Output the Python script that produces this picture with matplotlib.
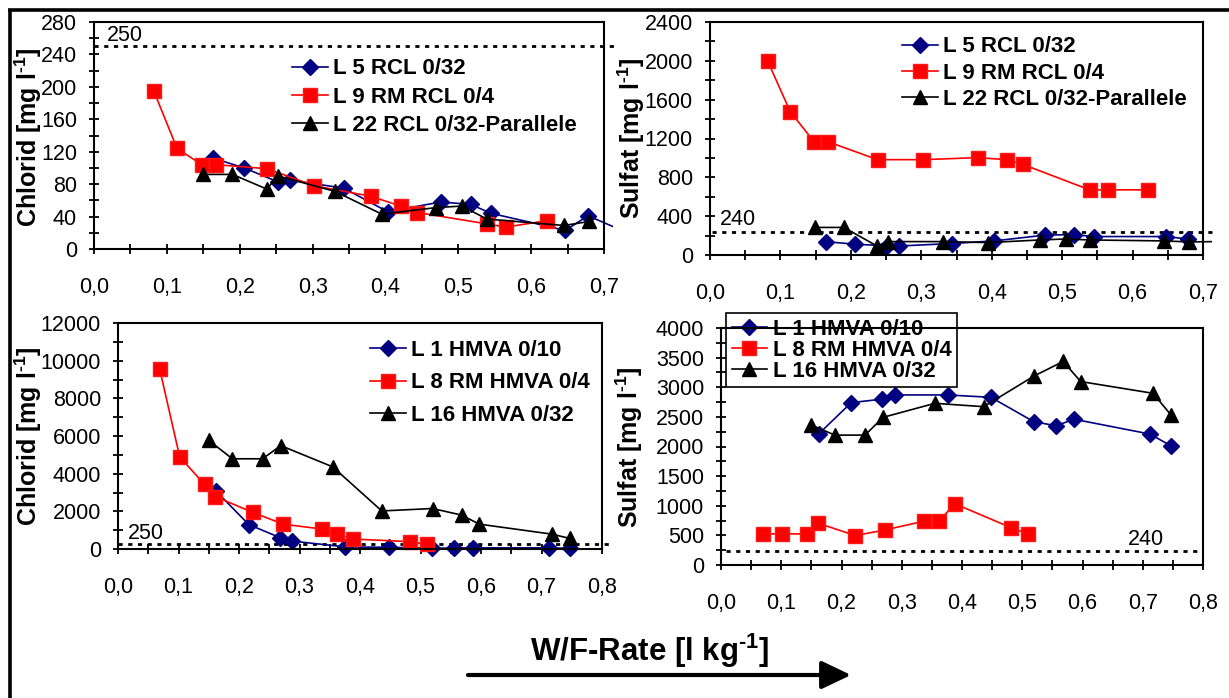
import numpy as np
import matplotlib
matplotlib.use("Agg")
import matplotlib.pyplot as plt
from matplotlib.ticker import FixedLocator, MultipleLocator
from matplotlib.lines import Line2D
from matplotlib.patches import FancyArrowPatch, Rectangle

plt.rcParams['font.family'] = ['Liberation Sans', 'DejaVu Sans']
plt.rcParams['mathtext.fontset'] = 'custom'
plt.rcParams['mathtext.rm'] = 'Liberation Sans:bold'
plt.rcParams['mathtext.bf'] = 'Liberation Sans:bold'
plt.rcParams['mathtext.default'] = 'bf'

# ---------------- data ----------------
# RCL columns (W/F-Rate in l/kg)
x_L5 = [0.164, 0.206, 0.252, 0.269, 0.343, 0.403, 0.476, 0.517, 0.545, 0.647, 0.678, 0.745]
x_L9 = [0.082, 0.114, 0.148, 0.168, 0.238, 0.302, 0.380, 0.421, 0.444, 0.539, 0.565, 0.622]
x_L22 = [0.149, 0.190, 0.237, 0.253, 0.331, 0.395, 0.469, 0.505, 0.539, 0.645, 0.680, 0.745]

chlorid_L5 = [112, 100, 83, 85, 75, 46, 58, 55, 44, 23, 41, 15]
chlorid_L9 = [195, 124, 104, 104, 99, 78, 65, 53, 45, 31, 27, 35]
chlorid_L22 = [92, 92, 74, 90, 71, 43, 51, 53, 37, 29, 34, np.nan]

sulfat_L5 = [138, 111, 95, 93, 118, 145, 205, 210, 190, 190, 165, np.nan]
sulfat_L9 = [1995, 1476, 1165, 1165, 982, 982, 1003, 982, 934, 671, 671, 671]
sulfat_L22 = [284, 284, 93, 138, 138, 128, 155, 165, 155, 145, 135, 140]

# HMVA columns
x_L1 = [0.162, 0.216, 0.268, 0.288, 0.376, 0.448, 0.519, 0.556, 0.586, 0.712, 0.747]
x_L8 = [0.069, 0.102, 0.143, 0.161, 0.223, 0.273, 0.337, 0.362, 0.388, 0.482, 0.510]
x_L16 = [0.150, 0.189, 0.239, 0.269, 0.355, 0.436, 0.520, 0.568, 0.597, 0.717, 0.747]

chlorid_L1 = [3080, 1300, 600, 420, 110, 90, 40, 50, 60, 60, 30]
chlorid_L8 = [9540, 4890, 3430, 2780, 1940, 1320, 1060, 790, 530, 390, 260]
chlorid_L16 = [5770, 4790, 4790, 5490, 4360, 2020, 2150, 1800, 1320, 790, 560]

sulfat_L1 = [2210, 2740, 2800, 2870, 2870, 2830, 2420, 2350, 2460, 2210, 2010]
sulfat_L8 = [525, 525, 525, 706, 497, 593, 740, 740, 1034, 627, 525]
sulfat_L16 = [2362, 2192, 2192, 2492, 2729, 2672, 3192, 3435, 3096, 2898, 2531]

labels_rcl = ["L 5 RCL 0/32", "L 9 RM RCL 0/4", "L 22 RCL 0/32-Parallele"]
labels_hmva = ["L 1 HMVA 0/10", "L 8 RM HMVA 0/4", "L 16 HMVA 0/32"]

chlorid_limit = 250
sulfat_limit = 240

x_ticks_07 = [0.0, 0.1, 0.2, 0.3, 0.4, 0.5, 0.6, 0.7]
x_labels_07 = ["0,0", "0,1", "0,2", "0,3", "0,4", "0,5", "0,6", "0,7"]
x_ticks_08 = [0.0, 0.1, 0.2, 0.3, 0.4, 0.5, 0.6, 0.7, 0.8]
x_labels_08 = ["0,0", "0,1", "0,2", "0,3", "0,4", "0,5", "0,6", "0,7", "0,8"]

y_ticks_cl_rcl = [0, 40, 80, 120, 160, 200, 240, 280]
y_ticks_so4_rcl = [0, 400, 800, 1200, 1600, 2000, 2400]
y_ticks_cl_hmva = [0, 2000, 4000, 6000, 8000, 10000, 12000]
y_ticks_so4_hmva = [0, 500, 1000, 1500, 2000, 2500, 3000, 3500, 4000]

ylabel_cl = r"Chlorid [mg l$^{\text{-1}}$]"
ylabel_so4 = r"Sulfat [mg l$^{\text{-1}}$]"
xlabel = r"W/F-Rate [l kg$^{\text{-1}}$]"

# ---------------- figure ----------------
W, H = 1229, 698
fig = plt.figure(figsize=(W / 100, H / 100), dpi=100)
fig.patch.set_facecolor("white")


def px_axes(l, t, r, b):
    return fig.add_axes([l / W, 1 - b / H, (r - l) / W, (b - t) / H])


BLUE = dict(color="#000080", marker="D", ms=8, mfc="#000080", mec="#000080", lw=1.2)
RED = dict(color="#ff0000", marker="s", ms=10.5, mfc="#ff0000", mec="#ff1a1a", lw=1.2)
BLACK = dict(color="black", marker="^", ms=10, mfc="black", mec="black", lw=1.2)
TICK_FS = 15.5
LEG_FS = 16


def style_axes(ax, xticks, xlabels, yticks, yminor):
    ax.set_xlim(xticks[0], xticks[-1])
    ax.set_ylim(yticks[0], yticks[-1])
    ax.xaxis.set_major_locator(FixedLocator(xticks))
    ax.set_xticklabels(xlabels)
    ax.xaxis.set_minor_locator(MultipleLocator(0.05))
    ax.yaxis.set_major_locator(FixedLocator(yticks))
    ax.set_yticklabels([str(v) for v in yticks])
    ax.yaxis.set_minor_locator(MultipleLocator(yminor))
    for s in ax.spines.values():
        s.set_linewidth(1.5)
    ax.tick_params(axis="both", which="both", direction="inout", length=6.5,
                   width=1.3, labelsize=TICK_FS)
    ax.tick_params(axis="x", which="major", pad=17)
    ax.tick_params(axis="y", which="major", pad=9)


def plot_series(ax, xs, ys, style, extend=1.0):
    line, = ax.plot(xs, ys, **style)
    clip = Rectangle((0, -0.1), extend, 1.2, transform=ax.transAxes)
    line.set_clip_path(clip)
    return line


def limit_line(ax, value, x0, x1):
    ax.plot([x0, x1], [value, value], transform=ax.get_yaxis_transform(),
            color="black", lw=2, ls=(0, (1.5, 2)), clip_on=False, zorder=1.5)


def add_legend(ax, handles, labels, left, top, spacing, frame=False):
    leg = ax.legend(handles, labels, loc="upper left",
                    bbox_to_anchor=(left / W, 1 - top / H),
                    bbox_transform=fig.transFigure, frameon=frame,
                    borderaxespad=0, borderpad=0.25 if frame else 0,
                    prop=dict(weight="bold", size=LEG_FS), labelspacing=spacing,
                    handlelength=1.6, handletextpad=0.25, numpoints=1,
                    fancybox=False)
    if frame:
        leg.get_frame().set_edgecolor("black")
        leg.get_frame().set_linewidth(1.2)
        leg.get_frame().set_facecolor("white")
        leg.get_frame().set_alpha(1)
    return leg


# Panel 1: Chlorid, RCL
ax1 = px_axes(94, 22, 604, 249)
h1 = plot_series(ax1, x_L5, chlorid_L5, BLUE, extend=1.018)
h2 = plot_series(ax1, x_L9, chlorid_L9, RED)
h3 = plot_series(ax1, x_L22, chlorid_L22, BLACK)
limit_line(ax1, chlorid_limit, 0, 1.02)
ax1.text(0.018, chlorid_limit + 1, str(chlorid_limit), fontsize=TICK_FS, va="bottom", ha="left")
style_axes(ax1, x_ticks_07, x_labels_07, y_ticks_cl_rcl, 20)
add_legend(ax1, [h1, h2, h3], labels_rcl, 292, 58.5, 0.33)

# Panel 2: Sulfat, RCL
ax2 = px_axes(710, 22, 1203, 255)
h1 = plot_series(ax2, x_L5, sulfat_L5, BLUE)
h2 = plot_series(ax2, x_L9, sulfat_L9, RED)
h3 = plot_series(ax2, x_L22, sulfat_L22, BLACK, extend=1.018)
limit_line(ax2, sulfat_limit, 0.004, 1.018)
ax2.text(0.014, sulfat_limit + 15, str(sulfat_limit), fontsize=TICK_FS, va="bottom", ha="left")
style_axes(ax2, x_ticks_07, x_labels_07, y_ticks_so4_rcl, 200)
add_legend(ax2, [h1, h2, h3], labels_rcl, 902, 36.5, 0.24)

# Panel 3: Chlorid, HMVA
ax3 = px_axes(118, 323, 602, 549)
h1 = plot_series(ax3, x_L1, chlorid_L1, BLUE)
h2 = plot_series(ax3, x_L8, chlorid_L8, RED)
h3 = plot_series(ax3, x_L16, chlorid_L16, BLACK)
limit_line(ax3, chlorid_limit, 0, 1.02)
ax3.text(0.0165, chlorid_limit + 10, str(chlorid_limit), fontsize=TICK_FS, va="bottom", ha="left")
style_axes(ax3, x_ticks_08, x_labels_08, y_ticks_cl_hmva, 1000)
add_legend(ax3, [h1, h2, h3], labels_hmva, 370, 339.5, 0.53)

# Panel 4: Sulfat, HMVA
ax4 = px_axes(721, 328, 1203, 565)
h1 = plot_series(ax4, x_L1, sulfat_L1, BLUE)
h2 = plot_series(ax4, x_L8, sulfat_L8, RED)
h3 = plot_series(ax4, x_L16, sulfat_L16, BLACK)
limit_line(ax4, sulfat_limit, 0.01, 1.0)
ax4.text(0.676, sulfat_limit + 10, str(sulfat_limit), fontsize=TICK_FS, va="bottom", ha="left")
style_axes(ax4, x_ticks_08, x_labels_08, y_ticks_so4_hmva, 250)
leg4 = add_legend(ax4, [h1, h2, h3], labels_hmva, 726, 313, 0.0, frame=True)
leg4.set_zorder(2.2)

# y-axis titles
for (cx, cy, txt) in [(28, 137, ylabel_cl), (631, 138, ylabel_so4),
                      (28, 436, ylabel_cl), (629, 447, ylabel_so4)]:
    fig.text(cx / W, 1 - cy / H, txt, rotation=90, ha="center", va="center",
             fontsize=18, fontweight="bold")

# common x title with arrow
fig.text(650 / W, 1 - 651 / H, xlabel, ha="center", va="center",
         fontsize=22.5, fontweight="bold")
arrow = FancyArrowPatch((468 / W, 1 - 675 / H), (851 / W, 1 - 675 / H),
                        transform=fig.transFigure,
                        arrowstyle="-|>,head_length=0.9,head_width=0.43",
                        mutation_scale=20, lw=3, color="black",
                        shrinkA=0, shrinkB=0)
fig.patches.append(arrow)

# outer frame (top and left edges)
fig.add_artist(Line2D([8 / W, 1], [1 - 10 / H, 1 - 10 / H], transform=fig.transFigure,
                      color="black", lw=2.6, solid_capstyle="butt"))
fig.add_artist(Line2D([10 / W, 10 / W], [0, 1 - 8.5 / H], transform=fig.transFigure,
                      color="black", lw=2.6, solid_capstyle="butt"))

fig.savefig("out.png", dpi=100)
